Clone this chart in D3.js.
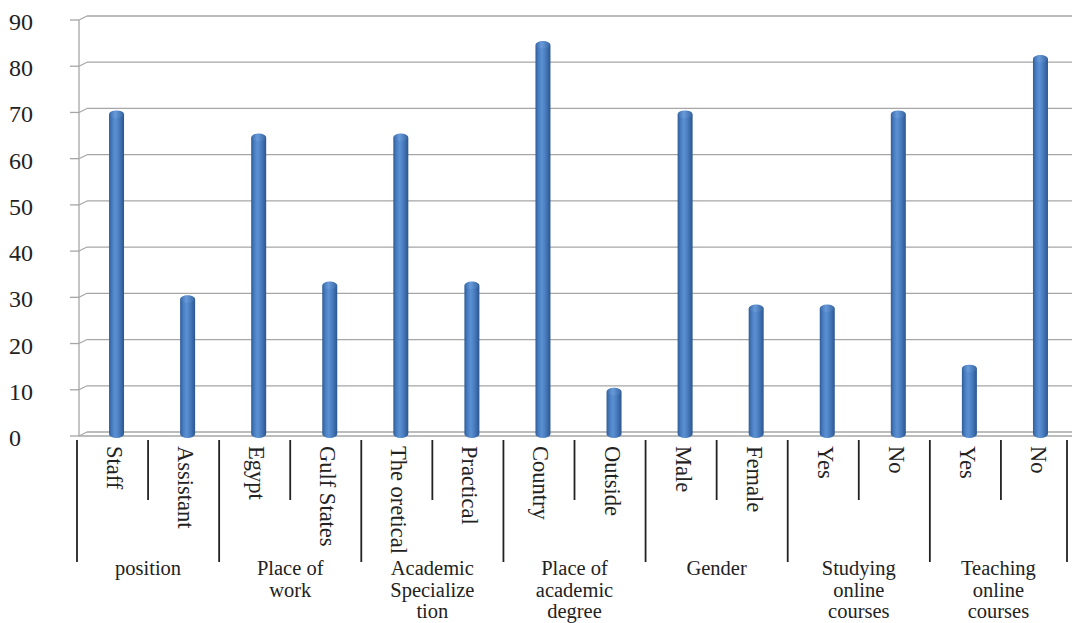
<!DOCTYPE html>
<html>
<head>
<meta charset="utf-8">
<script src="https://cdn.jsdelivr.net/npm/d3@7"></script>
<style>
  html, body { margin: 0; padding: 0; background: #fff; }
  svg { display: block; }
</style>
</head>
<body>
<svg id="chart" width="1072" height="623"></svg>
<script>
// Survey sample composition (%), grouped by characteristic
const categories = ["Staff", "Assistant", "Egypt", "Gulf States", "The oretical", "Practical",
  "Country", "Outside", "Male", "Female", "Yes", "No", "Yes", "No"];
const values = [70, 30, 65, 33, 65, 33, 85, 10, 70, 28, 28, 70, 15, 82];
const groupLabels = [
  ["position"],
  ["Place of", "work"],
  ["Academic", "Specialize", "tion"],
  ["Place of", "academic", "degree"],
  ["Gender"],
  ["Studying", "online", "courses"],
  ["Teaching", "online", "courses"]
];
const groupSizes = [2, 2, 2, 2, 2, 2, 2];
const yTicks = [0, 10, 20, 30, 40, 50, 60, 70, 80, 90];

const W = 1072, H = 623;
const axisX = 79, y0 = 436, yTop = 20;
const depthX = 8, depthY = -4;        // offset of the back wall
const serif = "'Liberation Serif', 'Times New Roman', serif";

const svg = d3.select("#chart");

const x = d3.scaleBand()
  .domain(d3.range(categories.length))
  .range([77, 1072])
  .paddingInner(0).paddingOuter(0);

const y = d3.scaleLinear().domain([0, 90]).range([y0, yTop]);

// gradient for the cylinder bars
const defs = svg.append("defs");
const grad = defs.append("linearGradient").attr("id", "barGrad")
  .attr("x1", "0%").attr("x2", "100%").attr("y1", "0%").attr("y2", "0%");
[["0%", "#2f5d98"], ["22%", "#4a7fc3"], ["42%", "#5b90d2"], ["65%", "#4a7ec0"], ["100%", "#2b5690"]]
  .forEach(([o, c]) => grad.append("stop").attr("offset", o).attr("stop-color", c));
const capGrad = defs.append("linearGradient").attr("id", "capGrad")
  .attr("x1", "0%").attr("x2", "100%").attr("y1", "0%").attr("y2", "0%");
[["0%", "#3d6fae"], ["40%", "#6b9ddb"], ["100%", "#3a69a6"]]
  .forEach(([o, c]) => capGrad.append("stop").attr("offset", o).attr("stop-color", c));

// back-wall gridlines with perspective joins to the axis ticks
const grid = svg.append("g");
yTicks.forEach(t => {
  const yy = y(t);
  grid.append("line")
    .attr("x1", axisX + depthX).attr("x2", W)
    .attr("y1", yy + depthY).attr("y2", yy + depthY)
    .attr("stroke", "#a6a6a6").attr("stroke-width", 1.3);
  grid.append("line")
    .attr("x1", axisX).attr("x2", axisX + depthX)
    .attr("y1", yy).attr("y2", yy + depthY)
    .attr("stroke", "#a6a6a6").attr("stroke-width", 1.1);
  grid.append("line")
    .attr("x1", axisX - 9).attr("x2", axisX)
    .attr("y1", yy).attr("y2", yy)
    .attr("stroke", "#a6a6a6").attr("stroke-width", 1.3);
});
// floor front edge and vertical axis
grid.append("line")
  .attr("x1", axisX).attr("x2", W).attr("y1", y0).attr("y2", y0)
  .attr("stroke", "#a6a6a6").attr("stroke-width", 1.3);
grid.append("line")
  .attr("x1", axisX).attr("x2", axisX).attr("y1", y(90)).attr("y2", y0)
  .attr("stroke", "#a6a6a6").attr("stroke-width", 1.3);

// y tick labels
svg.append("g").selectAll("text").data(yTicks).join("text")
  .attr("x", 9).attr("y", d => y(d) + 2)
  .attr("dominant-baseline", "central")
  .attr("font-family", serif).attr("font-size", 24).attr("fill", "#222")
  .text(d => d);

// cylinder bars
const bw = 15, capRy = 4;
const bars = svg.append("g");
values.forEach((v, i) => {
  const cx = x(i) + x.bandwidth() / 2 + 4;
  const top = y(v) - 2 + capRy;
  const bot = y0 - 2;
  const l = cx - bw / 2, r = cx + bw / 2;
  bars.append("path")
    .attr("d", `M${l},${bot} L${l},${top} A${bw / 2},${capRy} 0 0 1 ${r},${top} L${r},${bot} A${bw / 2},${capRy} 0 0 1 ${l},${bot} Z`)
    .attr("fill", "url(#barGrad)");
  bars.append("ellipse")
    .attr("cx", cx).attr("cy", top).attr("rx", bw / 2 - 0.5).attr("ry", capRy - 0.5)
    .attr("fill", "url(#capGrad)").attr("opacity", 0.8);
});

// rotated category labels
svg.append("g").selectAll("text").data(categories).join("text")
  .attr("transform", (d, i) => `translate(${x(i) + x.bandwidth() / 2 + 2},446) rotate(90)`)
  .attr("dominant-baseline", "central")
  .attr("font-family", serif).attr("font-size", 22.5).attr("fill", "#222")
  .text(d => d);

// separators: short between categories, long between groups
const groupStarts = [];
let acc = 0;
groupSizes.forEach(s => { groupStarts.push(acc); acc += s; });
const sep = svg.append("g");
d3.range(categories.length + 1).forEach(i => {
  const xx = i < categories.length ? x(i) : x.range()[1] - 5;
  const major = i === categories.length || groupStarts.includes(i);
  sep.append("line")
    .attr("x1", xx).attr("x2", xx)
    .attr("y1", 440).attr("y2", major ? 562 : 500)
    .attr("stroke", "#222").attr("stroke-width", 1.8);
});

// group labels
const gl = svg.append("g");
groupLabels.forEach((lines, g) => {
  const a = x(groupStarts[g]);
  const b = g + 1 < groupStarts.length ? x(groupStarts[g + 1]) : x.range()[1] - 5;
  const t = gl.append("text")
    .attr("x", (a + b) / 2).attr("y", 575)
    .attr("text-anchor", "middle")
    .attr("font-family", serif).attr("font-size", 20.5).attr("fill", "#222");
  lines.forEach((ln, k) => {
    t.append("tspan").attr("x", (a + b) / 2).attr("dy", k === 0 ? 0 : 21.5).text(ln);
  });
});
</script>
</body>
</html>
